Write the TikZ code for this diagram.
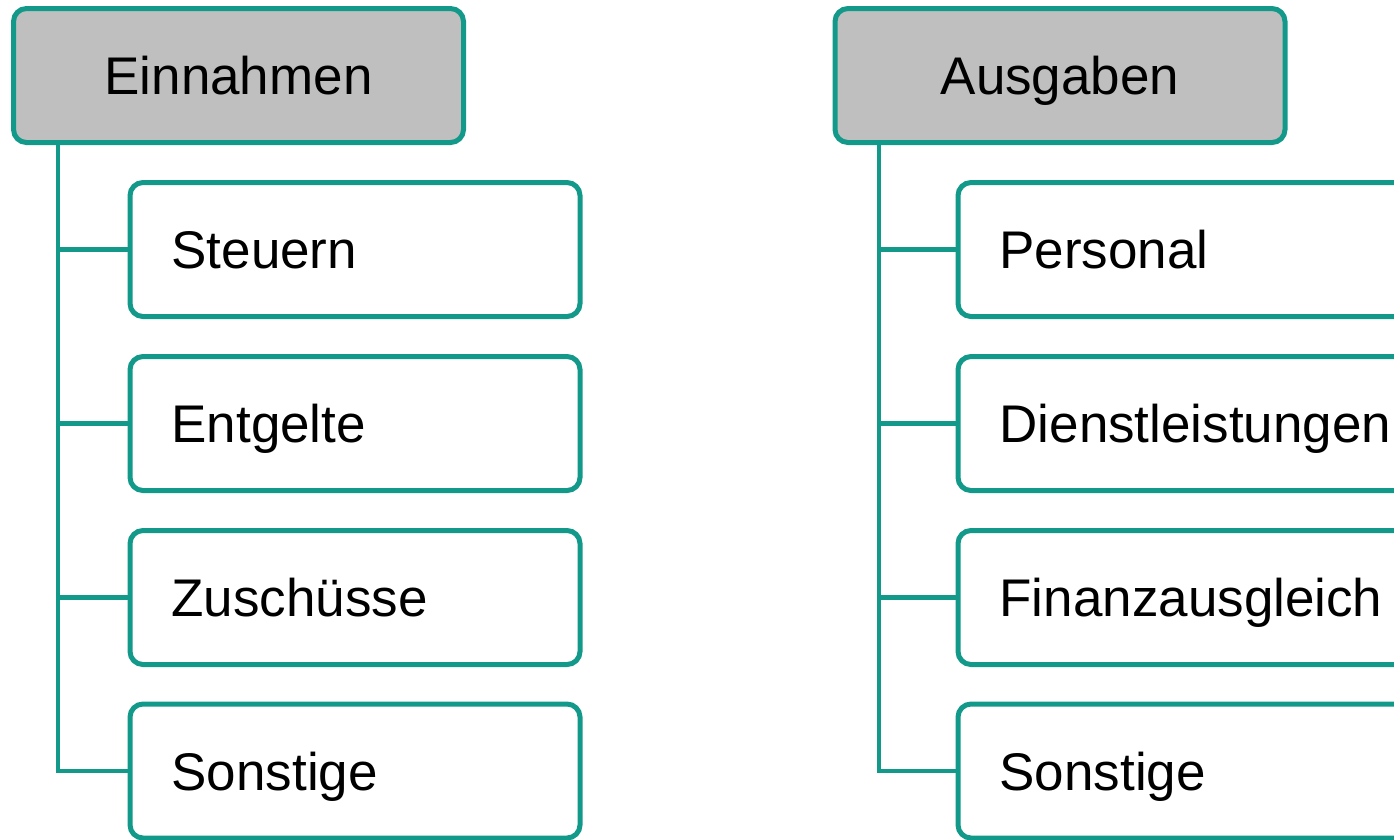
\documentclass[tikz,border=0pt]{standalone}
\usepackage{fontspec}
\setmainfont{Liberation Sans}
\definecolor{teal}{HTML}{12998A}
\definecolor{headgray}{HTML}{BFBFBF}

\begin{document}
\begin{tikzpicture}[x=1pt,y=-1pt,line width=5pt,
  head/.style={rectangle,rounded corners=13pt,draw=teal,fill=headgray,minimum width=450pt,minimum height=134pt,text width=440pt,align=center,inner sep=0pt,font=\fontsize{53}{60}\selectfont,text height=38pt,text depth=0pt},
  item/.style={rectangle,rounded corners=13pt,draw=teal,fill=white,minimum width=450pt,minimum height=134pt,text width=367pt,inner xsep=41.5pt,inner ysep=0pt,align=left,font=\fontsize{53}{60}\selectfont,text height=38pt,text depth=0pt},
  link/.style={draw=teal,line width=4.5pt}]
\useasboundingbox (0,0) rectangle (1394,839);
\clip (0,0) rectangle (1394,839);

% Einnahmen
\path (238.5,75.5) node[head] (E) {Einnahmen};
\coordinate (Et) at (58,142.5);
\path (355,249.5) node[item] (E1) {Steuern};
\path (355,423.5) node[item] (E2) {Entgelte};
\path (355,597.5) node[item] (E3) {Zuschüsse};
\path (355,771) node[item] (E4) {Sonstige};
\draw[link] (Et) |- (E4.west);
\draw[link] (E1.west) -- (E1.west -| Et);
\draw[link] (E2.west) -- (E2.west -| Et);
\draw[link] (E3.west) -- (E3.west -| Et);

% Ausgaben
\path (1060,75.5) node[head] (A) {Ausgaben};
\coordinate (At) at (879,142.5);
\path (1183,249.5) node[item] (A1) {Personal};
\path (1183,423.5) node[item] (A2) {Dienstleistungen};
\path (1183,597.5) node[item] (A3) {Finanzausgleich};
\path (1183,771) node[item] (A4) {Sonstige};
\draw[link] (At) |- (A4.west);
\draw[link] (A1.west) -- (A1.west -| At);
\draw[link] (A2.west) -- (A2.west -| At);
\draw[link] (A3.west) -- (A3.west -| At);
\end{tikzpicture}
\end{document}
